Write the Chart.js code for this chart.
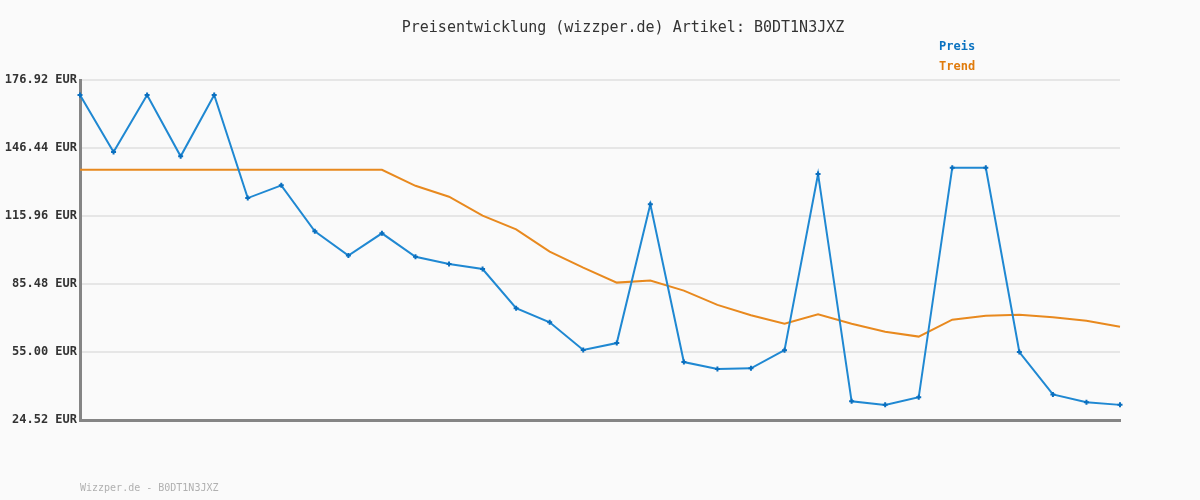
<!DOCTYPE html>
<html>
<head>
<meta charset="utf-8">
<script src="https://cdn.jsdelivr.net/npm/chart.js@4/dist/chart.umd.min.js"></script>
<style>
html,body{margin:0;padding:0;background:#fafafa;}
#wrap{position:relative;width:1200px;height:500px;}
</style>
</head>
<body>
<div id="wrap"><canvas id="c" width="1200" height="500"></canvas></div>
<script>
const categories = Array.from({length: 32}, (_, i) => String(i + 1));
const preis = [170.2, 144.6, 170.2, 142.7, 170.2, 124.0, 129.7, 109.1, 98.2, 108.2,
  97.7, 94.4, 92.2, 74.6, 68.3, 55.9, 59.0, 121.2, 50.5, 47.4,
  47.7, 55.8, 134.8, 32.9, 31.3, 34.7, 137.6, 137.6, 55.0, 36.0,
  32.5, 31.3];
const trend = [136.7, 136.7, 136.7, 136.7, 136.7, 136.7, 136.7, 136.7, 136.7, 136.7,
  129.5, 124.6, 116.1, 110.0, 100.0, 92.8, 86.1, 87.0, 82.5, 76.1,
  71.5, 67.7, 71.9, 67.7, 64.1, 61.9, 69.5, 71.3, 71.7, 70.6,
  69.0, 66.3];
const yTicks = [24.52, 55.00, 85.48, 115.96, 146.44, 176.92];
const titleText = "Preisentwicklung (wizzper.de) Artikel: B0DT1N3JXZ";
const footerText = "Wizzper.de - B0DT1N3JXZ";
const MONO = '"DejaVu Sans Mono", monospace';

const textPlugin = {
  id: 'texts',
  afterDraw(chart) {
    const ctx = chart.ctx;
    ctx.save();
    ctx.textBaseline = 'middle';
    ctx.font = '15px ' + MONO;
    ctx.fillStyle = '#333';
    ctx.textAlign = 'center';
    ctx.fillText(titleText, 623, 28);
    ctx.textAlign = 'left';
    ctx.font = 'bold 12px ' + MONO;
    chart.data.datasets.forEach((ds, i) => {
      ctx.fillStyle = ds.legendColor;
      ctx.fillText(ds.label, 939, 47 + i * 20);
    });
    ctx.font = '10px ' + MONO;
    ctx.fillStyle = '#b0b0b0';
    ctx.fillText(footerText, 80, 488);
    ctx.restore();
  }
};
const bgPlugin = {
  id: 'bg',
  beforeDraw(chart) {
    const ctx = chart.ctx;
    ctx.save();
    ctx.fillStyle = '#fafafa';
    ctx.fillRect(0, 0, chart.width, chart.height);
    ctx.restore();
  }
};

new Chart(document.getElementById('c'), {
  type: 'line',
  data: {
    labels: categories,
    datasets: [
      {
        label: 'Preis', data: preis, legendColor: '#0a72c0',
        borderColor: '#1f88d2', borderWidth: 2,
        pointStyle: 'cross', pointRadius: 2.5, pointBorderWidth: 2,
        pointBorderColor: '#0a6fbf', pointBackgroundColor: '#0a6fbf',
        tension: 0, order: 1
      },
      {
        label: 'Trend', data: trend, legendColor: '#e07b0c',
        borderColor: '#e8891e', borderWidth: 2,
        pointRadius: 0, tension: 0, order: 2
      }
    ]
  },
  options: {
    responsive: false,
    animation: false,
    layout: { padding: { top: 80, right: 80, bottom: 80, left: 0 } },
    plugins: { legend: { display: false }, title: { display: false }, tooltip: { enabled: false } },
    scales: {
      x: {
        offset: false,
        grid: { display: false, drawTicks: false },
        border: { display: true, color: '#858585', width: 3 },
        ticks: { display: false },
        afterFit(s) { s.height = 0; }
      },
      y: {
        min: 24.52, max: 176.92,
        afterBuildTicks(s) { s.ticks = yTicks.map(v => ({ value: v })); },
        afterFit(s) { s.width = 80; },
        grid: { color: '#e6e6e6', lineWidth: 2, drawTicks: false },
        border: { display: true, color: '#858585', width: 3 },
        ticks: {
          padding: 3,
          color: '#333',
          font: { family: MONO, size: 12, weight: 'bold' },
          callback: v => v.toFixed(2) + ' EUR'
        }
      }
    }
  },
  plugins: [bgPlugin, textPlugin]
});
</script>
</body>
</html>
